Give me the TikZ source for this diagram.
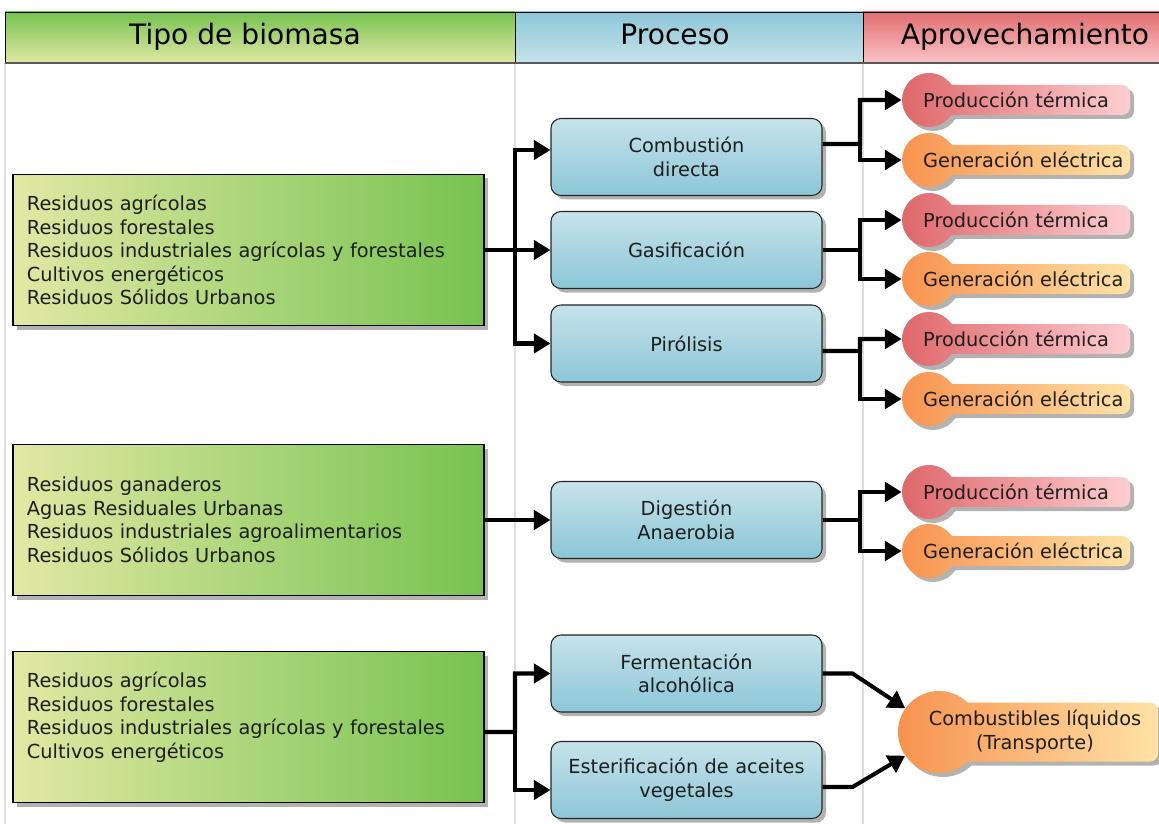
\documentclass[tikz,border=0pt]{standalone}
\usepackage{fontspec}
\setmainfont{DejaVu Sans}
\usetikzlibrary{positioning,shadows,arrows.meta}

\definecolor{verdeA}{HTML}{76C351}
\definecolor{verdeB}{HTML}{E2E8A4}
\definecolor{azulA}{HTML}{8CC6D6}
\definecolor{azulB}{HTML}{C6E3EB}
\definecolor{rojoA}{HTML}{E06E70}
\definecolor{rojoB}{HTML}{FCC4C6}
\definecolor{termA}{HTML}{DE6669}
\definecolor{termB}{HTML}{FDCDD1}
\definecolor{elecA}{HTML}{F8914E}
\definecolor{elecB}{HTML}{FFE2A6}
\definecolor{texto}{HTML}{1E1E1E}
\definecolor{rejilla}{HTML}{DDDDDD}

\tikzset{
  sombra/.style={drop shadow={shadow xshift=0.8mm, shadow yshift=-0.8mm, opacity=0.6}},
  cabecera/.style={draw=black, line width=0.5pt},
  titulo/.style={font=\fontsize{16}{19}\selectfont, text=black, anchor=base},
  tipo/.style={draw=black, line width=0.6pt, left color=verdeB, right color=verdeA, sombra,
    minimum height=30.2mm, text width=88.6mm, inner xsep=2.8mm, align=left, text=texto},
  proceso/.style={draw=black!85, line width=0.6pt, rounded corners=2mm, top color=azulB,
    bottom color=azulA, sombra, minimum height=15.4mm, text width=50mm, inner xsep=2.1mm,
    align=center, text=texto},
  flecha/.style={line width=2.3pt, -{Triangle[length=9.5pt, width=11pt]}},
  punto/.style={circle, inner sep=0pt},
  rotulo/.style={text=texto},
}

% salida: nombre, cx, cy, radio, media altura, borde derecho, color izq., color der.
\newcommand{\salida}[8]{%
  \pgfmathsetmacro{\sdx}{sqrt((#4)^2-(#5)^2)}%
  \pgfmathsetmacro{\sang}{asin((#5)/(#4))}%
  \shade[left color=#7, right color=#8, sombra] (#2+\sdx,#3-#5) -- (#6-8,#3-#5)
    arc[start angle=-90, end angle=0, radius=8] -- (#6,#3+#5-8)
    arc[start angle=0, end angle=90, radius=8] -- (#2+\sdx,#3+#5)
    arc[start angle=\sang, end angle=360-\sang, radius=#4] -- cycle;
  \node[punto, minimum size=#4*0.4mm] (#1) at (#2,#3) {};
}

\begin{document}
\begin{tikzpicture}[x=0.2mm, y=-0.2mm, font=\fontsize{11}{13.4}\selectfont]
  \useasboundingbox[fill=white] (0,0) rectangle (1159,824);

  % cabecera
  \draw[rejilla, line width=0.6pt] (5,63) -- (5,824) (515,63) -- (515,824) (863,63) -- (863,824);
  \shade[cabecera, top color=verdeA, bottom color=verdeB] (5,12) rectangle (515,63);
  \shade[cabecera, top color=azulA, bottom color=azulB] (515,12) rectangle (863,63);
  \shade[cabecera, top color=rojoA, bottom color=rojoB] (863,12) rectangle (1165,63);
  \draw[black!65, line width=1.5pt] (5,63) -- (1159,63);
  \node[titulo] (h1) at (245,45) {Tipo de biomasa};
  \node[titulo] (h2) at (675,45) {Proceso};
  \node[titulo] (h3) at (1025,45) {Aprovechamiento};

  % tipos de biomasa
  \node[tipo] (s1) at (248.5,250) {Residuos agrícolas\\Residuos forestales\\Residuos industriales agrícolas y forestales\\Cultivos energéticos\\Residuos Sólidos Urbanos};
  \node[tipo] (s2) at (248.5,520) {Residuos ganaderos\\Aguas Residuales Urbanas\\Residuos industriales agroalimentarios\\Residuos Sólidos Urbanos};
  \node[tipo] (s3) at (248.5,727) {Residuos agrícolas\\Residuos forestales\\Residuos industriales agrícolas y forestales\\Cultivos energéticos\\\mbox{}};

  % procesos
  \node[proceso] (p1) at (686.5,157) {Combustión\\directa};
  \node[proceso] (p2) at (686.5,250) {Gasificación};
  \node[proceso] (p3) at (686.5,343.5) {Pirólisis};
  \node[proceso] (p4) at (686.5,520) {Digestión\\Anaerobia};
  \node[proceso] (p5) at (686.5,673.5) {Fermentación\\alcohólica};
  \node[proceso] (p6) at (686.5,780) {Esterificación de aceites\\vegetales};

  % aprovechamiento
  \salida{o1}{929}{100}{27}{15}{1130}{termA}{termB}
  \salida{o2}{929}{160}{27}{15}{1130}{elecA}{elecB}
  \salida{o3}{929}{220}{27}{15}{1130}{termA}{termB}
  \salida{o4}{929}{279}{27}{15}{1130}{elecA}{elecB}
  \salida{o5}{929}{339}{27}{15}{1130}{termA}{termB}
  \salida{o6}{929}{399}{27}{15}{1130}{elecA}{elecB}
  \salida{o7}{929}{492}{27}{15}{1130}{termA}{termB}
  \salida{o8}{929}{551}{27}{15}{1130}{elecA}{elecB}
  \salida{o9}{939}{732}{41}{29.5}{1158}{elecA}{elecB}
  \node[rotulo, anchor=west] (t1) at (917,100) {Producción térmica};
  \node[rotulo, anchor=west] (t2) at (917,160) {Generación eléctrica};
  \node[rotulo, anchor=west] (t3) at (917,220) {Producción térmica};
  \node[rotulo, anchor=west] (t4) at (917,279) {Generación eléctrica};
  \node[rotulo, anchor=west] (t5) at (917,339) {Producción térmica};
  \node[rotulo, anchor=west] (t6) at (917,399) {Generación eléctrica};
  \node[rotulo, anchor=west] (t7) at (917,492) {Producción térmica};
  \node[rotulo, anchor=west] (t8) at (917,551) {Generación eléctrica};
  \node[rotulo, align=center] (t9) at (1035,732) {Combustibles líquidos\\(Transporte)};

  % conexiones
  \coordinate (j1) at (515,250);
  \coordinate (j3) at (515,732);
  \draw[flecha] (s1.east) -- (j1) |- ([yshift=1.4mm]p1.west);
  \draw[flecha] (j1) -- (p2.west);
  \draw[flecha] (j1) |- (p3.west);
  \draw[flecha] (s2.east) -- (p4.west);
  \draw[flecha] ([yshift=-1mm]s3.east) -- (j3) |- (p5.west);
  \draw[flecha] (j3) |- ([yshift=-2mm]p6.west);

  \coordinate (k1) at (860,144);
  \coordinate (k2) at (860,250);
  \coordinate (k3) at (860,351);
  \coordinate (k4) at (860,520);
  \draw[flecha] ([yshift=2.6mm]p1.east) -- (k1) |- (o1.west);
  \draw[flecha] (k1) |- (o2.west);
  \draw[flecha] (p2.east) -- (k2) |- (o3.west);
  \draw[flecha] (k2) |- (o4.west);
  \draw[flecha] ([yshift=-1.5mm]p3.east) -- (k3) |- (o5.west);
  \draw[flecha] (k3) |- (o6.west);
  \draw[flecha] (p4.east) -- (k4) |- (o7.west);
  \draw[flecha] (k4) |- (o8.west);
  \draw[flecha] (p5.east) -- ++(30,0) -- (o9.145);
  \draw[flecha] ([yshift=-1.4mm]p6.east) -- ++(30,0) -- (o9.215);
\end{tikzpicture}
\end{document}
